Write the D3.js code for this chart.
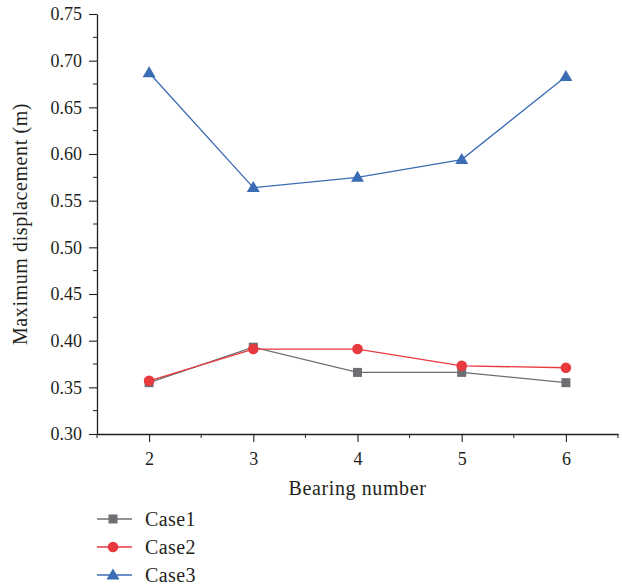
<!DOCTYPE html>
<html>
<head>
<meta charset="utf-8">
<script src="https://cdn.jsdelivr.net/npm/d3@7"></script>
<style>
  body { margin: 0; background: #fff; }
  text { font-family: "Liberation Serif", "DejaVu Serif", serif; fill: #231f20; }
</style>
</head>
<body>
<div id="wrapper"></div>
<script>
const bearings = [2, 3, 4, 5, 6]
const case1 = [0.355, 0.393, 0.366, 0.366, 0.355]
const case2 = [0.357, 0.391, 0.391, 0.373, 0.371]
const case3 = [0.687, 0.564, 0.575, 0.594, 0.683]
const seriesNames = ["Case1", "Case2", "Case3"]
const yTicks = [0.30, 0.35, 0.40, 0.45, 0.50, 0.55, 0.60, 0.65, 0.70, 0.75]

const dimensions = {
    width: 622,
    height: 585,
    margin: { top: 14, right: 4, bottom: 151, left: 97 },
}
dimensions.boundedWidth = dimensions.width - dimensions.margin.left - dimensions.margin.right
dimensions.boundedHeight = dimensions.height - dimensions.margin.top - dimensions.margin.bottom

const series = [
    { name: seriesNames[0], values: case1, color: "#6e6f73", shape: "square" },
    { name: seriesNames[1], values: case2, color: "#e8393e", shape: "circle" },
    { name: seriesNames[2], values: case3, color: "#3b6db4", shape: "triangle" },
]

const wrapper = d3.select("#wrapper")
    .append("svg")
    .attr("width", dimensions.width)
    .attr("height", dimensions.height)

const bounds = wrapper.append("g")
    .attr("transform", `translate(${dimensions.margin.left},${dimensions.margin.top})`)

const xScale = d3.scaleLinear()
    .domain([1.5, 6.5])
    .range([0, dimensions.boundedWidth])
const yScale = d3.scaleLinear()
    .domain([0.30, 0.75])
    .range([dimensions.boundedHeight, 0])

// minor ticks
const xMinor = d3.range(1.5, 6.51, 0.5).filter(d => !bearings.includes(d))
const yMinor = d3.range(0.325, 0.75, 0.05)

bounds.append("g")
    .attr("transform", `translate(0,${dimensions.boundedHeight})`)
    .selectAll("line")
    .data(xMinor)
    .join("line")
    .attr("x1", d => xScale(d)).attr("x2", d => xScale(d))
    .attr("y1", 0).attr("y2", 4)
    .attr("stroke", "#231f20")

bounds.append("g")
    .selectAll("line")
    .data(yMinor)
    .join("line")
    .attr("x1", -4).attr("x2", 0)
    .attr("y1", d => yScale(d)).attr("y2", d => yScale(d))
    .attr("stroke", "#231f20")

// axes
const xAxis = bounds.append("g")
    .attr("transform", `translate(0,${dimensions.boundedHeight})`)
    .call(d3.axisBottom(xScale).tickValues(bearings).tickFormat(d3.format("d")).tickSize(8).tickPadding(10).tickSizeOuter(0))
const yAxis = bounds.append("g")
    .call(d3.axisLeft(yScale).tickValues(yTicks).tickFormat(d3.format(".2f")).tickSize(8).tickPadding(7).tickSizeOuter(0))

for (const ax of [xAxis, yAxis]) {
    ax.select(".domain").attr("stroke", "#231f20").attr("stroke-width", 1.3)
    ax.selectAll(".tick line").attr("stroke", "#231f20").attr("stroke-width", 1.1)
    ax.selectAll(".tick text").style("font-family", "'Liberation Serif', serif").style("font-size", "18px").attr("fill", "#231f20")
}

// axis titles
wrapper.append("text")
    .attr("x", dimensions.margin.left + xScale(4))
    .attr("y", 495)
    .attr("text-anchor", "middle")
    .style("font-size", "20px")
    .style("letter-spacing", "0.6px")
    .text("Bearing number")

wrapper.append("text")
    .attr("transform", `translate(27,${dimensions.margin.top + dimensions.boundedHeight / 2}) rotate(-90)`)
    .attr("text-anchor", "middle")
    .style("font-size", "20px")
    .style("letter-spacing", "0.6px")
    .text("Maximum displacement (m)")

// lines and markers
const lineGenerator = d3.line()
    .x((d, i) => xScale(bearings[i]))
    .y(d => yScale(d))

function drawMarker(sel, shape, color) {
    if (shape === "square") {
        sel.append("rect").attr("x", -4.5).attr("y", -4.5).attr("width", 9).attr("height", 9).attr("fill", color)
    } else if (shape === "circle") {
        sel.append("circle").attr("r", 5.3).attr("fill", color)
    } else {
        sel.append("path").attr("d", "M0,-6.5L6.5,4.5L-6.5,4.5Z").attr("fill", color)
    }
}

series.forEach(s => {
    bounds.append("path")
        .attr("d", lineGenerator(s.values))
        .attr("fill", "none")
        .attr("stroke", s.color)
        .attr("stroke-width", 1.3)
    s.values.forEach((v, i) => {
        const g = bounds.append("g")
            .attr("transform", `translate(${xScale(bearings[i])},${yScale(v)})`)
        drawMarker(g, s.shape, s.color)
    })
})

// legend
const legend = wrapper.append("g")
    .attr("transform", "translate(97,519)")
series.forEach((s, i) => {
    const row = legend.append("g").attr("transform", `translate(0,${i * 28})`)
    row.append("line")
        .attr("x1", 0).attr("x2", 35)
        .attr("stroke", s.color).attr("stroke-width", 1.3)
    drawMarker(row.append("g").attr("transform", "translate(16,0)"), s.shape, s.color)
    row.append("text")
        .attr("x", 48).attr("y", 7)
        .style("font-size", "20px")
        .style("letter-spacing", "0.4px")
        .text(s.name)
})
</script>
</body>
</html>
